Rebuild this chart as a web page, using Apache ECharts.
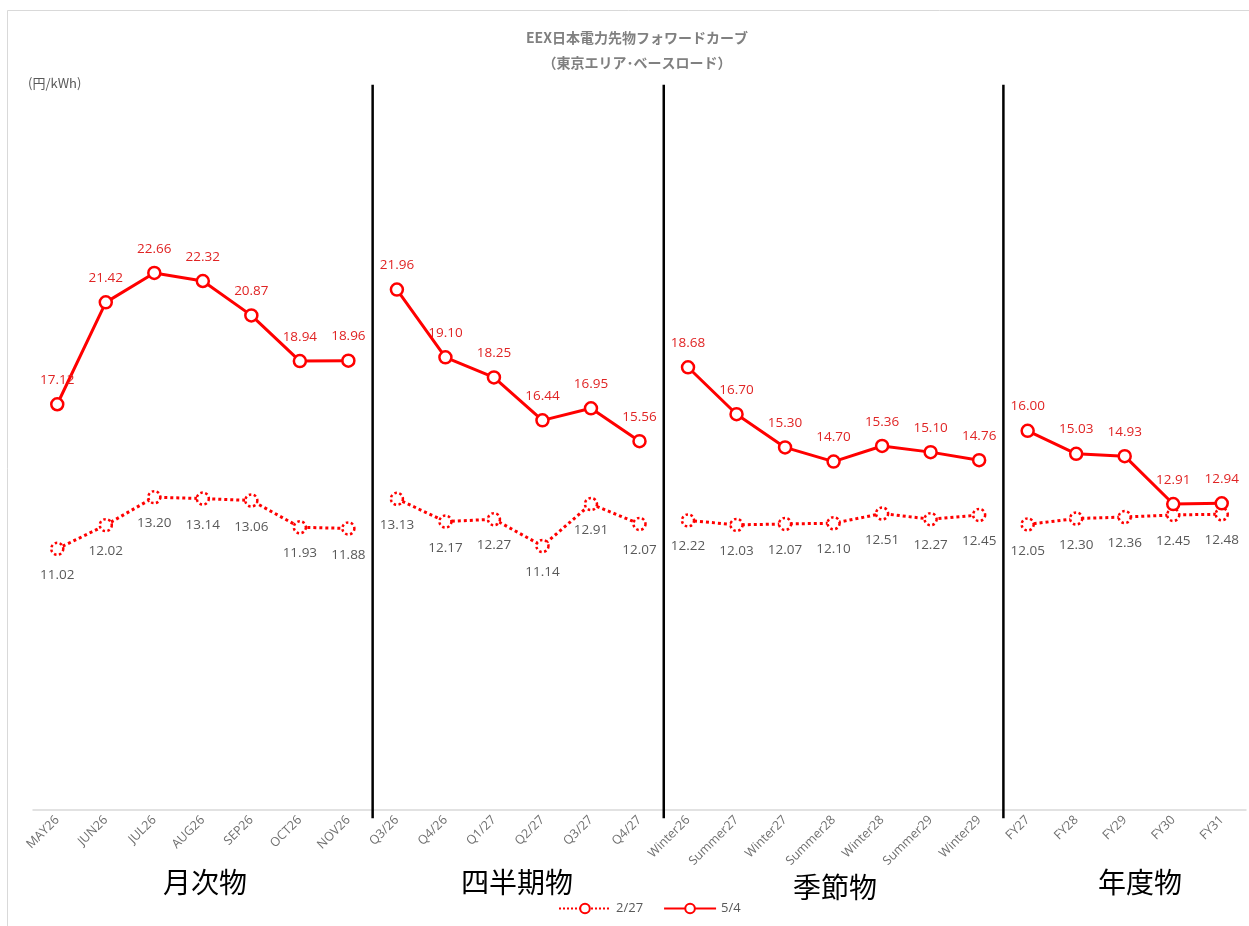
<!DOCTYPE html>
<html><head><meta charset="utf-8">
<script src="https://cdn.jsdelivr.net/npm/echarts@6/dist/echarts.min.js"></script>
<style>html,body{margin:0;padding:0;background:#fff}#c{width:1249px;height:926px}</style>
</head><body><div id="c"></div>
<script>
const monthly = ['MAY26','JUN26','JUL26','AUG26','SEP26','OCT26','NOV26'];
const quarterly = ['Q3/26','Q4/26','Q1/27','Q2/27','Q3/27','Q4/27'];
const seasonal = ['Winter26','Summer27','Winter27','Summer28','Winter28','Summer29','Winter29'];
const yearly = ['FY27','FY28','FY29','FY30','FY31'];
const groupNames = ['月次物','四半期物','季節物','年度物'];
const titleLines = ['EEX日本電力先物フォワードカーブ', '（東京エリア･ベースロード）'];
const seriesFeb27 = [11.02,12.02,13.20,13.14,13.06,11.93,11.88, 13.13,12.17,12.27,11.14,12.91,12.07, 12.22,12.03,12.07,12.10,12.51,12.27,12.45, 12.05,12.30,12.36,12.45,12.48];
const seriesMay4 = [17.12,21.42,22.66,22.32,20.87,18.94,18.96, 21.96,19.10,18.25,16.44,16.95,15.56, 18.68,16.70,15.30,14.70,15.36,15.10,14.76, 16.00,15.03,14.93,12.91,12.94];

const groups = [monthly, quarterly, seasonal, yearly];
const categories = [].concat(...groups);
const starts = []; let acc = 0;
groups.forEach(g => { starts.push(acc); acc += g.length; });

const RED = '#ff0000';
const FONT = 'Open Sans, Noto Sans, sans-serif';
const JP = 'Noto Sans CJK JP, sans-serif';
const series = [];
groups.forEach((g, gi) => {
  const s = starts[gi], e = s + g.length;
  const mk = arr => arr.map((v, i) => (i >= s && i < e) ? v : '-');
  series.push({
    name: '2/27', type: 'line', data: mk(seriesFeb27), symbol: 'circle', symbolSize: 12,
    lineStyle: {color: RED, width: 3, type: 'dotted'},
    itemStyle: {color: '#fff', borderColor: RED, borderWidth: 2.5, borderType: 'dotted'},
    label: {show: true, position: 'bottom', distance: 12, color: '#595959', fontSize: 13.5,
      fontFamily: FONT, formatter: p => p.value.toFixed(2)},
    emphasis: {disabled: true}, z: 3
  });
  series.push({
    name: '5/4', type: 'line', data: mk(seriesMay4), symbol: 'circle', symbolSize: 12,
    lineStyle: {color: RED, width: 3},
    itemStyle: {color: '#fff', borderColor: RED, borderWidth: 2.5},
    label: {show: true, position: 'top', distance: 10, color: '#e02424', fontSize: 13.5,
      fontFamily: FONT, formatter: p => p.value.toFixed(2)},
    emphasis: {disabled: true}, z: 4
  });
});

const gtext = (x, y, text, size, color, weight) => ({type: 'text', x: x, y: y, silent: true,
  style: {text: text, fill: color, fontSize: size, fontWeight: weight || 'normal',
    align: 'center', verticalAlign: 'middle', fontFamily: JP}});

const baseGraphic = [
  {type: 'rect', shape: {x: 7.5, y: 10.5, width: 1300, height: 1000},
   style: {fill: 'none', stroke: '#d9d9d9', lineWidth: 1}, silent: true},
  gtext(637, 38, titleLines[0], 14, '#808080', 'bold'),
  gtext(637, 63, titleLines[1], 14, '#808080', 'bold'),
  {type: 'text', left: 28, top: 77, style: {text: '(円/kWh)', fill: '#595959', fontSize: 13, fontFamily: JP}},
  gtext(205, 882, groupNames[0], 28, '#000'),
  gtext(517, 882, groupNames[1], 28, '#000'),
  gtext(835, 887, groupNames[2], 28, '#000'),
  gtext(1140, 882, groupNames[3], 28, '#000')
];

const chart = echarts.init(document.getElementById('c'));
chart.setOption({
  animation: false,
  backgroundColor: '#fff',
  grid: {left: 33, right: 3, top: 99, bottom: 116, containLabel: false},
  xAxis: [{
    type: 'category', data: categories, boundaryGap: true,
    axisLine: {lineStyle: {color: '#d9d9d9', width: 1.5}},
    axisTick: {show: false},
    axisLabel: {rotate: 45, color: '#6f6f6f', fontSize: 12.5, margin: 8, interval: 0, fontFamily: FONT}
  }, {
    type: 'value', min: 0, max: categories.length, show: false
  }],
  yAxis: {type: 'value', min: 0, max: 30, show: false, splitLine: {show: false}},
  legend: {
    bottom: 6, left: 553, itemWidth: 52, itemHeight: 12, itemGap: 20,
    data: ['2/27', '5/4'],
    textStyle: {color: '#595959', fontSize: 13, fontFamily: FONT}
  },
  graphic: baseGraphic,
  series: series
});

// group separators: positioned via the hidden value axis that spans the category bands
const sepGraphic = starts.slice(1).map(x => {
  const px = chart.convertToPixel({xAxisIndex: 1}, x);
  const yTop = chart.convertToPixel({yAxisIndex: 0}, 30.6);
  const yBot = chart.convertToPixel({yAxisIndex: 0}, -0.35);
  return {type: 'line', shape: {x1: px, y1: yTop, x2: px, y2: yBot},
    style: {stroke: '#000', lineWidth: 2.5}, silent: true, z: 10};
});
chart.setOption({graphic: baseGraphic.concat(sepGraphic)});
</script></body></html>
